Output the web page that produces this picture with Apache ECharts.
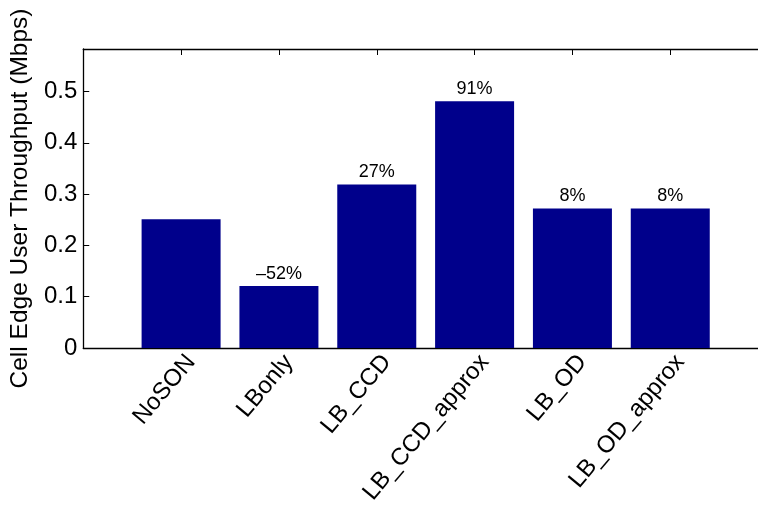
<!DOCTYPE html>
<html><head><meta charset="utf-8">
<script src="https://cdn.jsdelivr.net/npm/echarts@6/dist/echarts.min.js"></script>
<style>html,body{margin:0;padding:0;background:#fff}#c{width:758px;height:507px}</style>
</head><body><div id="c"></div>
<script>
const categories = ['NoSON', 'LBonly', 'LB_CCD', 'LB_CCD_approx', 'LB_OD', 'LB_OD_approx'];
const values = [0.251, 0.121, 0.319, 0.481, 0.272, 0.272];
const barLabels = ['', '–52%', '27%', '91%', '8%', '8%'];
const yTicks = [0, 0.1, 0.2, 0.3, 0.4, 0.5];

const FONT = 'Liberation Sans';
const chart = echarts.init(document.getElementById('c'), null, {renderer: 'canvas'});
const L = 82.8, UNIT = 97.9, CW = 758;
const XMAX = (CW - L) / UNIT;          // visible part of the [0, 7] axis
const SHIFT = 10 / UNIT;               // label anchor offset
const positions = categories.map((c, i) => i + 1);
const posName = v => {
  const i = Math.round(v);
  return (Math.abs(v - i) < 1e-6 && i >= 1 && i <= categories.length) ? categories[i - 1] : '';
};
chart.setOption({
  animation: false,
  grid: {left: L, top: 49, right: 0, bottom: 157, containLabel: false},
  xAxis: [
    {type: 'value', position: 'bottom', min: 0, max: XMAX, interval: 1,
     axisLine: {show: true, onZero: false, lineStyle: {color: '#000', width: 1.3}},
     axisTick: {show: true, inside: true, length: 6, customValues: positions, lineStyle: {color: '#000'}},
     axisLabel: {show: false}, splitLine: {show: false}},
    {type: 'value', position: 'top', min: 0, max: XMAX, interval: 1,
     axisLine: {show: true, onZero: false, lineStyle: {color: '#000', width: 1.3}},
     axisTick: {show: true, inside: true, length: 6, customValues: positions, lineStyle: {color: '#000'}},
     axisLabel: {show: false}, splitLine: {show: false}},
    {type: 'value', position: 'bottom', min: -SHIFT, max: XMAX - SHIFT,
     axisLine: {show: false}, axisTick: {show: false}, splitLine: {show: false},
     axisLabel: {show: true, rotate: 50, margin: 10, fontFamily: FONT, fontSize: 24, color: '#000',
       customValues: positions, formatter: posName}}
  ],
  yAxis: {type: 'value', min: 0, max: 0.583, interval: 0.1,
     name: 'Cell Edge User Throughput (Mbps)', nameLocation: 'middle', nameGap: 42,
     nameTextStyle: {fontFamily: FONT, fontSize: 24.5, color: '#000'},
     axisLine: {show: true, lineStyle: {color: '#000', width: 1.3}},
     axisTick: {show: true, inside: true, length: 6, customValues: yTicks, lineStyle: {color: '#000'}},
     axisLabel: {show: true, margin: 6, fontFamily: FONT, fontSize: 24, color: '#000',
       customValues: yTicks,
       formatter: v => { const t = yTicks.find(k => Math.abs(k - v) < 1e-6); return t === undefined ? '' : String(t); }},
     splitLine: {show: false}},
  series: [{
    type: 'bar', xAxisIndex: 0, yAxisIndex: 0, barWidth: 79,
    itemStyle: {color: '#00008B'},
    data: categories.map((c, i) => [positions[i], values[i]]),
    label: {show: true, position: 'top', distance: 3, fontFamily: FONT, fontSize: 18, color: '#000',
      formatter: p => barLabels[p.dataIndex]}
  }]
});
</script></body></html>
